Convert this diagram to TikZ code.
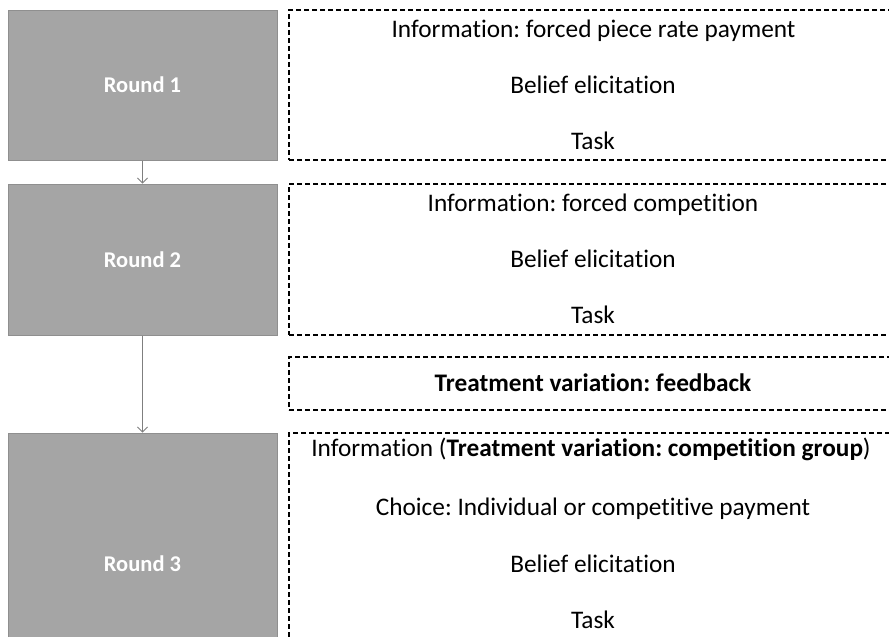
\documentclass[tikz,border=0pt]{standalone}
\usepackage{fontspec}
\setmainfont{Carlito}[Ligatures={NoCommon,NoContextual}]
\usetikzlibrary{arrows.meta}
\definecolor{boxgray}{HTML}{A5A5A5}
\definecolor{boxedge}{HTML}{8F8F8F}
\definecolor{arrowgray}{HTML}{7F7F7F}
\frenchspacing
\begin{document}
\frenchspacing
\begin{tikzpicture}[x=1pt,y=-1pt,
  roundbox/.style={fill=boxgray,draw=boxedge,line width=1pt,minimum width=269pt,text=white,font=\fontsize{22.5}{27}\selectfont\bfseries,inner sep=0pt},
  dbox/.style={draw=black,dash pattern=on 5pt off 3pt,line width=1.2pt,minimum width=611pt,inner sep=0pt},
  txt/.style={font=\fontsize{25.3}{30}\selectfont,inner sep=0pt,anchor=base},
  flow/.style={draw=arrowgray,line width=0.8pt,-{Straight Barb[length=5pt,width=10pt]}}]
\useasboundingbox (0,0) rectangle (889,637);
\clip (0,0) rectangle (889,637);
% gray round boxes
\node[roundbox,minimum height=150pt] (r1) at (142.5,85) {Round 1};
\node[roundbox,minimum height=151pt] (r2) at (142.5,259.5) {Round 2};
\node[roundbox,minimum height=262pt] (r3) at (142.5,564) {Round 3};
% dashed boxes
\node[dbox,minimum height=150pt] (d1) at (594.5,85) {};
\node[dbox,minimum height=151pt] (d2) at (594.5,259.5) {};
\node[dbox,minimum height=53pt] (d3) at (594.5,383.5) {};
\node[dbox,minimum height=267pt] (d4) at (594.5,566.5) {};
% texts round 1
\node[txt] (t11) at (593.5,37) {Information: forced piece rate payment};
\node[txt] (t12) at (593,93) {Belief elicitation};
\node[txt] (t13) at (593,149) {Task};
% texts round 2
\node[txt] (t21) at (593,211) {Information: forced competition};
\node[txt] (t22) at (593,267) {Belief elicitation};
\node[txt] (t23) at (593,323) {Task};
% feedback
\node[txt] (tf) at (593,391) {\bfseries Treatment variation: feedback};
% texts round 3
\node[txt] (t31) at (591,456) {Information (\textbf{Treatment variation: competition group})};
\node[txt] (t32) at (593,515) {Choice: Individual or competitive payment};
\node[txt] (t33) at (593,572) {Belief elicitation};
\node[txt] (t34) at (593,628) {Task};
% arrows
\draw[flow] (r1.south) -- (r2.north);
\draw[flow] (r2.south) -- (r3.north);
\end{tikzpicture}
\end{document}
